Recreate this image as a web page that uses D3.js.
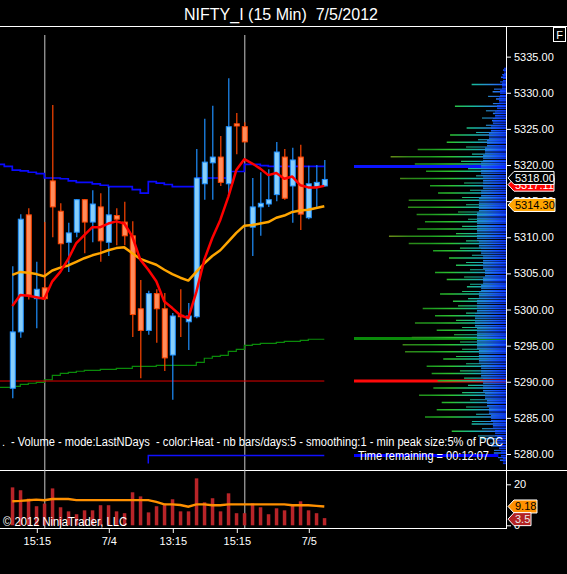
<!DOCTYPE html>
<html><head><meta charset="utf-8">
<script src="https://cdn.jsdelivr.net/npm/d3@7"></script>
<style>
body{margin:0;background:#000;}
svg{display:block;font-family:"Liberation Sans",Arial,sans-serif;}
</style>
</head><body>
<svg id="c" width="567" height="574"></svg>
<script>
// ---------------- DATA ----------------
const times = ["7/3 14:30","7/3 14:45","7/3 15:00","7/3 15:15","7/3 15:30",
"7/4 09:30","7/4 09:45","7/4 10:00","7/4 10:15","7/4 10:30","7/4 10:45","7/4 11:00","7/4 11:15","7/4 11:30","7/4 11:45",
"7/4 12:00","7/4 12:15","7/4 12:30","7/4 12:45","7/4 13:00","7/4 13:15","7/4 13:30","7/4 13:45","7/4 14:00","7/4 14:15",
"7/4 14:30","7/4 14:45","7/4 15:00","7/4 15:15","7/4 15:30",
"7/5 09:30","7/5 09:45","7/5 10:00","7/5 10:15","7/5 10:30","7/5 10:45","7/5 11:00","7/5 11:15","7/5 11:30","7/5 11:45"];

const open  = [5289.1,5296.9,5313.1,5301.5,5303.0,5317.8,5313.6,5309.3,5310.7,5315.2,5312.1,5314.2,5309.3,5313.0,5312.1,5310.2,5300.1,5297.1,5302.2,5300.1,5293.7,5299.2,5298.3,5299.0,5317.4,5320.3,5321.1,5317.4,5325.7,5325.3,5311.4,5314.2,5314.6,5315.9,5321.1,5317.1,5321.1,5312.7,5317.0,5317.1];
const high  = [5306.0,5313.2,5314.0,5306.6,5312.1,5328.3,5314.7,5312.0,5315.3,5315.3,5316.5,5316.1,5317.0,5314.0,5314.9,5312.2,5304.1,5302.6,5302.8,5302.3,5299.5,5302.8,5300.9,5322.2,5326.4,5328.2,5324.0,5332.0,5327.2,5325.9,5318.2,5319.0,5319.4,5323.2,5322.2,5322.4,5322.8,5319.9,5320.0,5320.7];
const low   = [5287.7,5296.1,5301.4,5297.4,5301.3,5310.0,5306.0,5305.2,5310.0,5307.8,5309.3,5306.6,5307.4,5308.9,5308.9,5296.2,5290.5,5296.5,5295.4,5291.5,5287.5,5296.2,5294.4,5298.8,5315.2,5315.2,5317.1,5316.1,5321.5,5323.1,5307.4,5310.2,5314.2,5315.0,5315.2,5312.0,5311.0,5312.5,5314.2,5317.0];
const close = [5296.9,5312.5,5302.0,5302.8,5301.5,5314.2,5309.1,5310.6,5315.2,5312.1,5314.6,5309.5,5313.1,5312.5,5310.2,5299.3,5297.1,5302.2,5300.1,5293.3,5299.1,5299.0,5299.1,5318.2,5320.4,5321.1,5317.6,5325.3,5325.4,5323.2,5314.2,5314.7,5315.2,5321.8,5315.4,5320.7,5313.2,5317.4,5317.6,5318.0];

const volume = [18.5,17.1,13.0,9.3,10.6,18.0,8.8,6.8,5.4,7.3,7.3,9.8,9.8,6.8,5.9,16.1,14.1,6.3,9.3,10.6,12.7,6.8,6.8,22.9,11.2,13.2,6.8,15.6,5.9,5.9,10.7,8.8,5.4,8.3,7.3,9.8,11.7,7.3,5.9,3.5];
const volumeMA = [11.7,11.9,12.2,12.5,12.2,12.8,12.8,12.8,12.3,12.3,12.3,12.3,12.3,12.3,12.3,12.3,12.3,12.3,11.4,10.2,10.2,9.9,9.1,10.2,10.2,9.8,9.8,10.2,10.2,10.2,10.2,10.2,10.2,10.2,10.2,9.8,9.8,9.8,9.5,9.18];

const maFast = [5300.5,5302.0,5301.9,5301.7,5301.5,5303.9,5305.2,5307.0,5309.2,5310.3,5311.4,5311.4,5311.9,5312.2,5311.9,5310.1,5306.9,5305.5,5303.9,5301.1,5300.2,5299.2,5298.8,5302.4,5306.9,5309.9,5312.4,5315.6,5319.3,5320.8,5320.2,5319.5,5318.6,5318.9,5318.1,5318.4,5317.2,5316.9,5316.9,5317.11];
const maSlow = [5304.8,5305.2,5305.1,5304.9,5304.6,5305.4,5305.8,5306.1,5306.6,5307.1,5307.5,5307.8,5308.2,5308.5,5308.6,5307.8,5307.0,5306.6,5306.2,5305.5,5304.9,5304.4,5304.0,5305.2,5306.4,5307.4,5308.2,5309.4,5310.6,5311.6,5311.7,5311.9,5312.1,5312.7,5313.0,5313.5,5313.7,5313.8,5314.05,5314.30];

// developing POC (blue) and prior POC (green) step lines; two values before first bar
const bluePocPre = [5320.1,5319.8];
const bluePoc = [5319.3,5319.2,5319.0,5318.8,5318.2,5318.2,5318.1,5317.8,5317.6,5317.6,5317.4,5317.2,5317.0,5317.0,5317.0,5316.6,5316.1,5317.7,5317.5,5317.3,5317.0,5317.0,5317.0,5318.2,5318.2,5318.2,5318.2,5319.1,5319.1,5320.1,5320.1,5319.9,5319.8,5319.8,5319.8,5319.8,5319.8,5319.8,5319.8,5319.8];
const greenPocPre = [5289.23,5289.23];
const greenPoc = [5289.37,5289.65,5289.79,5289.92,5290.28,5290.89,5291.17,5291.31,5291.45,5291.58,5291.58,5291.72,5291.72,5291.86,5291.86,5292.14,5292.14,5292.14,5292.28,5292.28,5292.28,5292.28,5292.28,5292.69,5293.25,5293.52,5293.66,5294.21,5294.49,5295.04,5295.18,5295.32,5295.32,5295.46,5295.60,5295.60,5295.74,5295.88,5295.88,5295.88];
const redLevel = 5290.1;
const lowLevel = 5279.8;       // blue level marker starting at bar "7/4 12:30"
const lowLevelStart = "7/4 12:30";

const priceTicks = [5280,5285,5290,5295,5300,5305,5310,5315,5320,5325,5330,5335];
const volTicks = [0,20];
const tickTimes  = ["7/3 15:15","7/4 11:15","7/4 13:15","7/4 15:15","7/5 11:15"];
const tickLabels = ["15:15","7/4","13:15","15:15","7/5"];
const sessionEnds = ["7/3 15:30","7/4 15:30"];

// volume profile (levels 5333 .. 5279, step 1), relative volume (POC = 100)
const profTop = 5333;
const spikeVol = [2,3.3,22.6,8.8,6.6,33.6,8.6,9.2,25.9,36.8,39,58.1,75.9,60,52.6,69.7,50,44.7,64,64.5,58.8,53.3,58.4,77,64,48,37.5,32.9,46.7,39,25.7,43.4,34.9,54.8,46.7,59.9,45.6,62,68,66.4,41.3,52.2,48.9,45,47.8,57.2,42.3,45.6,53.3,22.6,35.7,16.4,9.9,8,4];
// half levels 5332.5 .. 5279.5
const halfVol = [2.6,3.9,7.9,11.8,8.6,13.2,15.8,13.2,19.7,18.4,26.3,22.4,29.6,25,19.7,27.6,23.7,28.9,26.3,31.6,25,28.9,32.9,26.3,30.3,22.4,26.3,23.7,27.6,23.7,28.9,25,31.6,26.3,32.9,28.9,34.2,30.3,28.9,32.9,26.3,30.3,27.6,25,28.9,23.7,26.3,19.7,22.4,15.8,18.4,10.5,7.9,5.3];
const coreVol = [1.3,2,2.6,3.9,4.6,5.9,7.2,8.6,9.9,11.2,12.5,13.8,15.1,16.4,16.4,15.1,15.1,16.4,17.8,17.8,19.1,19.1,19.1,19.1,17.8,16.4,15.1,15.1,13.8,15.1,16.4,17.8,19.1,19.1,20.4,20.4,19.1,19.1,19.1,17.8,17.8,16.4,16.4,15.1,15.1,13.8,12.5,11.2,9.9,8.6,7.2,5.9,4.6,3.3,2];
const pocLevels = [5319.8, 5296.0, 5290.1];
const pocColors = ["#0a14ff","#0a8a0a","#ff0a0a"];

const lastPrice = 5318.00, lastFast = 5317.11, lastSlow = 5314.30;
const lastVolMA = 9.18, lastVol = 3.5;

// ---------------- CHART ----------------
const svg = d3.select("#c");
svg.append("rect").attr("width",567).attr("height",574).attr("fill","#000");

const AX = 506;                   // right axis x
const x = d3.scalePoint().domain(times).range([12.3, 324.3]);
const step = x.step();
const y = d3.scaleLinear().domain([5280,5320]).range([454,165]);
const yv = d3.scaleLinear().domain([0,20]).range([525.3,484.3]);
const xp = d3.scaleLinear().domain([0,100]).range([AX,354]);

const defs = svg.append("defs");
defs.append("clipPath").attr("id","pclip").append("rect").attr("x",0).attr("y",27).attr("width",AX).attr("height",443);
const g1 = defs.append("linearGradient").attr("id","spikeG").attr("gradientUnits","userSpaceOnUse")
  .attr("x1",354).attr("x2",AX).attr("y1",0).attr("y2",0);
[[0,"#55650e"],[0.2,"#7a8a18"],[0.36,"#2f8618"],[0.5,"#1e9a1e"],[0.64,"#2cc232"],[0.79,"#18b8a0"],[0.9,"#2a86e0"],[1,"#1450ff"]]
  .forEach(s=>g1.append("stop").attr("offset",s[0]).attr("stop-color",s[1]));
const g2 = defs.append("linearGradient").attr("id","coreG").attr("gradientUnits","userSpaceOnUse")
  .attr("x1",474).attr("x2",AX).attr("y1",0).attr("y2",0);
[[0,"#1e8fc8"],[0.35,"#1e78e6"],[0.7,"#1450ff"],[1,"#0a32ff"]]
  .forEach(s=>g2.append("stop").attr("offset",s[0]).attr("stop-color",s[1]));
const pat = defs.append("pattern").attr("id","stripes").attr("patternUnits","userSpaceOnUse").attr("width",4).attr("height",2.5);
pat.append("rect").attr("width",4).attr("height",1.5).attr("fill","#fff");
defs.append("mask").attr("id","coreMask").append("rect").attr("x",340).attr("y",27).attr("width",170).attr("height",443).attr("fill","url(#stripes)");

// frame lines
svg.append("line").attr("x1",0).attr("x2",567).attr("y1",26.5).attr("y2",26.5).attr("stroke","#fff");
svg.append("line").attr("x1",0).attr("x2",567).attr("y1",470.5).attr("y2",470.5).attr("stroke","#fff");
svg.append("line").attr("x1",0).attr("x2",AX).attr("y1",528.5).attr("y2",528.5).attr("stroke","#fff");
svg.append("line").attr("x1",AX+0.5).attr("x2",AX+0.5).attr("y1",26).attr("y2",529).attr("stroke","#fff");

// title
svg.append("text").attr("x",281).attr("y",20).attr("text-anchor","middle").attr("fill","#fff")
  .attr("font-size",16).style("white-space","pre").text("NIFTY_I (15 Min)  7/5/2012");
// F box
svg.append("rect").attr("x",553.5).attr("y",27.5).attr("width",12).attr("height",14).attr("fill","#000").attr("stroke","#fff");
svg.append("text").attr("x",559.5).attr("y",39).attr("text-anchor","middle").attr("fill","#fff").attr("font-size",11).text("F");

// session break lines
svg.selectAll(".sess").data(sessionEnds).join("line")
  .attr("x1",d=>x(d)+0.5).attr("x2",d=>x(d)+0.5).attr("y1",35).attr("y2",528)
  .attr("stroke","#c8c8c8").attr("stroke-width",1);

const P = svg.append("g").attr("clip-path","url(#pclip)");

// volume profile
const profLevels = d3.range(profTop, profTop - spikeVol.length, -1);
const halfLevels = profLevels.slice(1).map(p=>p+0.5);
const PR = svg.append("g");
PR.selectAll(".poc").data(pocLevels).join("line")
  .attr("x1",xp(100)).attr("x2",AX).attr("y1",d=>y(d)).attr("y2",d=>y(d))
  .attr("stroke",(d,i)=>pocColors[i]).attr("stroke-width",3);
PR.append("line").attr("x1",xp(100)).attr("x2",xp(5)).attr("y1",y(lowLevel)).attr("y2",y(lowLevel))
  .attr("stroke","#0000ff").attr("stroke-width",3);
PR.selectAll(".sp").data(spikeVol).join("line")
  .attr("x1",d=>xp(d)).attr("x2",AX).attr("y1",(d,i)=>y(profLevels[i])-1).attr("y2",(d,i)=>y(profLevels[i])-1)
  .attr("stroke","url(#spikeG)").attr("stroke-width",1.5);
PR.selectAll(".hf").data(halfVol).join("line")
  .attr("x1",d=>xp(d)).attr("x2",AX).attr("y1",(d,i)=>y(halfLevels[i])).attr("y2",(d,i)=>y(halfLevels[i]))
  .attr("stroke","url(#spikeG)").attr("stroke-width",1.1);
PR.append("g").attr("mask","url(#coreMask)").selectAll("rect").data(coreVol).join("rect")
  .attr("x",d=>xp(d)).attr("width",d=>AX-xp(d))
  .attr("y",(d,i)=>y(profLevels[i]+0.5)).attr("height",(d,i)=>y(profLevels[i]-0.5)-y(profLevels[i]+0.5))
  .attr("fill","url(#coreG)");

// step lines
function stepPts(pre, vals){
  const x0 = x(times[0]);
  const pts = pre.map((v,k)=>[x0 - step*(pre.length-k), y(v)]);
  vals.forEach((v,i)=>pts.push([x(times[i]), y(v)]));
  return pts;
}
const stepLine = d3.line().curve(d3.curveStepAfter);
P.append("path").attr("d",stepLine(stepPts(greenPocPre,greenPoc))).attr("fill","none").attr("stroke","#0a8a0a").attr("stroke-width",1.2);
P.append("line").attr("x1",0).attr("x2",x(times[times.length-1])).attr("y1",y(redLevel)).attr("y2",y(redLevel))
  .attr("stroke","#e00000").attr("stroke-width",1);
P.append("path").attr("d",`M${x(lowLevelStart)},${y(lowLevel)+8}V${y(lowLevel)}H${x(times[times.length-1])}`)
  .attr("fill","none").attr("stroke","#1010ff").attr("stroke-width",1.5);
P.append("path").attr("d",stepLine(stepPts(bluePocPre,bluePoc))).attr("fill","none").attr("stroke","#0a0aff").attr("stroke-width",1.7);

// candles
const up = i => close[i] >= open[i];
const C = P.append("g");
C.selectAll(".wick").data(times).join("line")
  .attr("x1",d=>x(d)+0.5).attr("x2",d=>x(d)+0.5)
  .attr("y1",(d,i)=>y(high[i])).attr("y2",(d,i)=>y(low[i]))
  .attr("stroke",(d,i)=>up(i)?"#1e90ff":"#ff4500").attr("stroke-width",1.2);
C.selectAll(".body").data(times).join("rect")
  .attr("x",d=>x(d)-2).attr("width",5)
  .attr("y",(d,i)=>y(Math.max(open[i],close[i])))
  .attr("height",(d,i)=>Math.max(1,Math.abs(y(open[i])-y(close[i]))))
  .attr("fill",(d,i)=>up(i)?"#87cefa":"#ff8c5a")
  .attr("stroke",(d,i)=>up(i)?"#1e90ff":"#ff4500").attr("stroke-width",1);

// moving averages
const ln = d3.line().x((d,i)=>x(times[i])).y(d=>y(d)).curve(d3.curveLinear);
P.append("path").attr("d",ln(maSlow)).attr("fill","none").attr("stroke","#ffa500").attr("stroke-width",2.5).attr("stroke-linejoin","round");
P.append("path").attr("d",ln(maFast)).attr("fill","none").attr("stroke","#ff0000").attr("stroke-width",2.5).attr("stroke-linejoin","round");

// volume panel
svg.selectAll(".vb").data(volume).join("rect")
  .attr("x",(d,i)=>x(times[i])-1.5).attr("width",3.5)
  .attr("y",d=>yv(d)).attr("height",d=>yv(0)-yv(d)).attr("fill","#b82428");
const lnv = d3.line().x((d,i)=>x(times[i])).y(d=>yv(d));
svg.append("path").attr("d",lnv(volumeMA)).attr("fill","none").attr("stroke","#ff9000").attr("stroke-width",2.4);

// axes
function styleAxis(g){
  g.select(".domain").remove();
  g.selectAll("line").attr("stroke","#fff");
  g.selectAll("text").attr("fill","#fff").attr("font-size",11).attr("font-family","Liberation Sans, Arial, sans-serif");
}
svg.append("g").attr("transform",`translate(${AX},0)`)
  .call(d3.axisRight(y).tickValues(priceTicks).tickFormat(d3.format(".2f")).tickSize(5).tickPadding(3))
  .call(styleAxis);
svg.append("g").attr("transform",`translate(${AX},0)`)
  .call(d3.axisRight(yv).tickValues(volTicks).tickFormat(d3.format("d")).tickSize(5).tickPadding(3))
  .call(styleAxis);
svg.append("g").attr("transform","translate(0.5,528)")
  .call(d3.axisBottom(x).tickValues(tickTimes).tickFormat((d,i)=>tickLabels[i]).tickSize(5).tickPadding(4))
  .call(styleAxis);

// value tags on the axis
function tag(cy, w, txt, fill, tcol){
  const g = svg.append("g");
  g.append("path").attr("d",`M${AX+2},${cy}L${AX+8},${cy-6.5}H${AX+8+w}V${cy+6.5}H${AX+8}Z`)
    .attr("fill",fill).attr("stroke","#fff").attr("stroke-width",1);
  g.append("text").attr("x",AX+9).attr("y",cy+4).attr("fill",tcol).attr("font-size",11).text(txt);
}
tag(y(lastFast)-1.2, 40, d3.format(".2f")(lastFast), "#ff0000", "#fff");
tag(y(lastPrice)-1.5, 40, d3.format(".2f")(lastPrice), "#000", "#fff");
tag(y(lastSlow)-1.2, 41, d3.format(".2f")(lastSlow), "#ffa500", "#000");
tag(yv(lastVolMA), 23, d3.format(".2f")(lastVolMA), "#ff9000", "#000");
tag(yv(lastVol)+1, 17, String(lastVol), "#b22222", "#e8e8e8");

// texts
svg.append("text").attr("x",2).attr("y",446).attr("fill","#fff").attr("font-size",11).text(".");
svg.append("text").attr("x",11).attr("y",446).attr("fill","#fff").attr("font-size",12)
  .attr("textLength",492).attr("lengthAdjust","spacingAndGlyphs").style("white-space","pre")
  .text("- Volume - mode:LastNDays  - color:Heat - nb bars/days:5 - smoothing:1 - min peak size:5% of POC");
svg.append("text").attr("x",358).attr("y",459.5).attr("fill","#fff").attr("font-size",12)
  .attr("textLength",131).attr("lengthAdjust","spacingAndGlyphs").text("Time remaining = 00:12:07");
svg.append("text").attr("x",3).attr("y",526).attr("fill","#fff").attr("font-size",12)
  .attr("textLength",124).attr("lengthAdjust","spacingAndGlyphs").text("© 2012 NinjaTrader, LLC");
</script>
</body></html>
